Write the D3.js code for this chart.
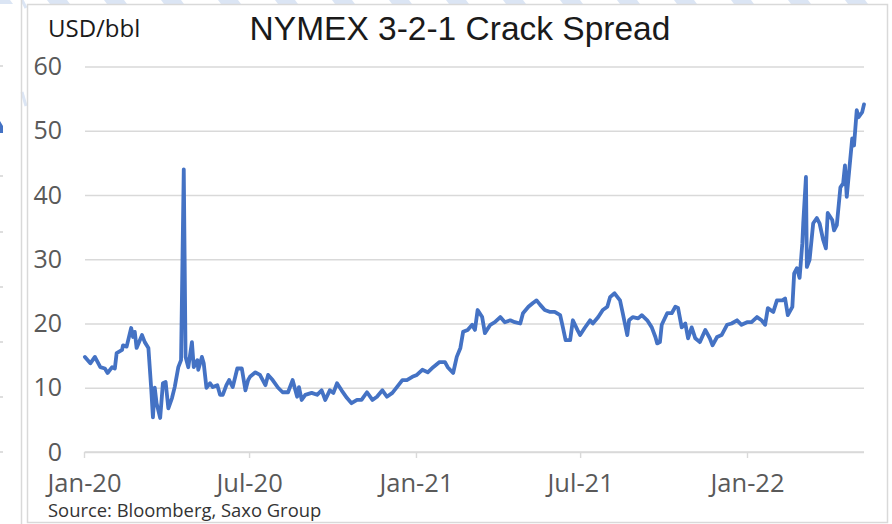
<!DOCTYPE html>
<html>
<head>
<meta charset="utf-8">
<script src="https://cdn.jsdelivr.net/npm/d3@7"></script>
<style>
  html, body { margin: 0; padding: 0; background: #ffffff; }
  svg { display: block; }
</style>
</head>
<body>
<svg id="chart" width="892" height="524"></svg>
<script>
// ---------- DATA ----------
const title = "NYMEX 3-2-1 Crack Spread";
const unitLabel = "USD/bbl";
const sourceText = "Source: Bloomberg, Saxo Group";

const yTicks = [0, 10, 20, 30, 40, 50, 60];
const xTickDates = ["2020-01-01", "2020-07-01", "2021-01-01", "2021-07-01", "2022-01-01"];
const xDomain = ["2020-01-01", "2022-05-10"];

const dates = [
  "2020-01-02","2020-01-08","2020-01-13","2020-01-19","2020-01-24","2020-01-27","2020-02-01","2020-02-04",
  "2020-02-06","2020-02-12","2020-02-13","2020-02-17","2020-02-22","2020-02-24","2020-02-26","2020-02-28",
  "2020-03-05","2020-03-08","2020-03-12","2020-03-15","2020-03-17","2020-03-19","2020-03-21","2020-03-25",
  "2020-03-28","2020-03-31","2020-04-03","2020-04-07","2020-04-10","2020-04-14","2020-04-17","2020-04-20",
  "2020-04-22","2020-04-25","2020-04-29","2020-05-01","2020-05-05","2020-05-06","2020-05-10","2020-05-12",
  "2020-05-15","2020-05-19","2020-05-22","2020-05-27","2020-05-30","2020-06-02","2020-06-06","2020-06-09",
  "2020-06-13","2020-06-18","2020-06-23","2020-06-27","2020-06-30","2020-07-02","2020-07-08","2020-07-13",
  "2020-07-19","2020-07-22","2020-07-27","2020-08-02","2020-08-07","2020-08-13","2020-08-18","2020-08-23",
  "2020-08-25","2020-08-28","2020-09-01","2020-09-08","2020-09-14","2020-09-19","2020-09-23","2020-09-28",
  "2020-10-02","2020-10-06","2020-10-11","2020-10-17","2020-10-22","2020-10-28","2020-11-02","2020-11-08",
  "2020-11-14","2020-11-19","2020-11-25","2020-11-30","2020-12-06","2020-12-11","2020-12-17","2020-12-22",
  "2020-12-28","2021-01-02","2021-01-08","2021-01-14","2021-01-20","2021-01-27","2021-02-02","2021-02-05",
  "2021-02-11","2021-02-15","2021-02-19","2021-02-22","2021-02-27","2021-03-04","2021-03-07","2021-03-10",
  "2021-03-15","2021-03-18","2021-03-24","2021-03-29","2021-04-04","2021-04-09","2021-04-15","2021-04-20",
  "2021-04-26","2021-04-29","2021-05-05","2021-05-10","2021-05-14","2021-05-18","2021-05-23","2021-05-29",
  "2021-06-03","2021-06-09","2021-06-12","2021-06-15","2021-06-20","2021-06-23","2021-06-28","2021-07-01",
  "2021-07-06","2021-07-12","2021-07-15","2021-07-21","2021-07-26","2021-07-31","2021-08-03","2021-08-08",
  "2021-08-14","2021-08-17","2021-08-22","2021-08-24","2021-08-28","2021-09-03","2021-09-07","2021-09-13",
  "2021-09-18","2021-09-22","2021-09-24","2021-09-27","2021-09-29","2021-10-05","2021-10-10","2021-10-14",
  "2021-10-17","2021-10-21","2021-10-25","2021-10-28","2021-11-01","2021-11-05","2021-11-10","2021-11-16",
  "2021-11-21","2021-11-24","2021-11-29","2021-12-04","2021-12-10","2021-12-15","2021-12-21","2021-12-26",
  "2022-01-01","2022-01-06","2022-01-12","2022-01-17","2022-01-21","2022-01-24","2022-01-30","2022-02-03",
  "2022-02-09","2022-02-12","2022-02-15","2022-02-20","2022-02-22","2022-02-25","2022-02-28","2022-03-03",
  "2022-03-04","2022-03-07","2022-03-08","2022-03-11","2022-03-15","2022-03-19","2022-03-22","2022-03-26",
  "2022-03-29","2022-03-31","2022-04-05","2022-04-07","2022-04-10","2022-04-14","2022-04-17","2022-04-19",
  "2022-04-21","2022-04-23","2022-04-27","2022-04-29","2022-05-02","2022-05-04","2022-05-08","2022-05-10"
];

const values = [
  14.8,13.8,14.8,13.2,13.0,12.3,13.2,13.0,
  15.4,15.9,16.6,16.4,19.3,17.9,18.7,16.2,
  18.2,17.1,16.2,10.1,5.4,10.0,7.6,5.3,
  10.7,10.9,6.8,8.4,10.1,13.2,14.3,44.0,
  14.8,13.2,17.1,13.2,14.3,12.8,14.8,13.8,
  10.0,10.7,10.1,10.4,8.9,8.9,10.4,11.2,
  10.1,13.0,13.0,9.6,11.2,11.7,12.4,12.0,
  10.4,12.0,11.2,10.0,9.3,9.3,11.2,8.6,
  10.1,8.1,8.9,9.2,8.9,9.6,8.1,9.6,
  9.2,10.7,9.6,8.4,7.6,8.1,8.1,9.3,
  8.1,8.6,9.6,8.6,9.2,10.1,11.2,11.2,
  11.7,12.0,12.8,12.4,13.2,14.0,14.0,13.2,
  12.3,14.8,16.2,18.7,19.0,19.8,19.0,22.1,
  21.0,18.5,19.8,20.2,21.0,20.2,20.5,20.2,
  20.0,21.6,22.6,23.2,23.6,22.9,22.1,21.8,
  21.8,21.3,19.4,17.4,17.4,20.5,19.0,18.2,
  19.3,20.5,20.0,21.0,22.1,22.6,24.1,24.7,
  23.6,21.6,18.2,20.5,21.0,20.8,21.3,20.5,
  19.4,17.9,16.9,17.1,19.8,21.6,21.6,22.6,
  22.4,19.4,20.0,17.7,19.4,17.7,17.1,19.0,
  17.7,16.6,17.9,18.2,19.8,20.0,20.5,19.8,
  20.2,20.2,21.0,20.5,19.8,22.4,21.8,23.6,
  23.6,23.9,21.3,22.6,27.8,28.6,27.1,32.5,
  35.6,42.8,28.8,29.9,35.6,36.4,35.6,33.0,
  31.7,37.2,36.1,34.5,35.3,41.2,41.8,44.6,
  39.7,42.8,48.8,47.7,53.2,52.1,52.9,54.1
];

// ---------- DRAW ----------
const parse = d3.timeParse("%Y-%m-%d");
const data = dates.map((d, i) => ({ date: parse(d), value: values[i] }));

const svg = d3.select("#chart");

// background hatch strip at top and gap (decorative)
const deco = svg.append("g");
for (let x0 = -10; x0 < 900; x0 += 57) {
  deco.append("path")
    .attr("d", `M${x0},0 L${x0 + 20},0 L${x0 + 23},4 L${x0 + 3},4 Z`)
    .attr("fill", "#dbe5f4");
}
deco.append("line").attr("x1", 22).attr("y1", 0).attr("x2", 26).attr("y2", 8)
  .attr("stroke", "#dbe5f4").attr("stroke-width", 3);
deco.append("line").attr("x1", 22).attr("y1", 92).attr("x2", 26).attr("y2", 106)
  .attr("stroke", "#dbe5f4").attr("stroke-width", 3);

// left neighbouring chart remnant
deco.append("line").attr("x1", 21.5).attr("y1", 0).attr("x2", 21.5).attr("y2", 524)
  .attr("stroke", "#d9d9d9").attr("stroke-width", 1.5);
[66, 176, 232, 287, 342, 397, 452].forEach(y => {
  deco.append("line").attr("x1", 0).attr("x2", 3).attr("y1", y).attr("y2", y)
    .attr("stroke", "#c8c8c8").attr("stroke-width", 1.2);
});
deco.append("path").attr("d", "M0,121 L3,126 L3,133 L0,133 Z").attr("fill", "#4472c4");

// frame
svg.append("rect")
  .attr("x", 27.5).attr("y", 4.5).attr("width", 860).attr("height", 518)
  .attr("fill", "#ffffff").attr("stroke", "#d9d9d9").attr("stroke-width", 1.5);

const x = d3.scaleTime().domain(xDomain.map(parse)).range([84, 864]);
const y = d3.scaleLinear().domain([0, 60]).range([452, 66.5]);

// y axis with gridlines
const yAxis = svg.append("g")
  .attr("transform", "translate(85,0)")
  .call(d3.axisLeft(y).tickValues(yTicks).tickSize(-779).tickPadding(23).tickFormat(d3.format("d")));
yAxis.select(".domain").remove();
yAxis.selectAll(".tick line").attr("stroke", "#d9d9d9").attr("stroke-width", 1.4);
yAxis.selectAll(".tick text")
  .attr("fill", "#595959")
  .style("font-family", "'Open Sans', 'Noto Sans', sans-serif")
  .style("font-size", "25px");

// x axis
const xAxis = svg.append("g")
  .attr("transform", "translate(0,452)")
  .call(d3.axisBottom(x)
    .tickValues(xTickDates.map(parse))
    .tickSize(6).tickPadding(16)
    .tickFormat(d3.timeFormat("%b-%y")));
xAxis.select(".domain").attr("stroke", "#d9d9d9").attr("stroke-width", 1.4)
  .attr("d", "M84.5,0H864");
xAxis.selectAll(".tick line").attr("stroke", "#d9d9d9").attr("stroke-width", 1.4);
xAxis.selectAll(".tick text")
  .attr("fill", "#595959")
  .style("font-family", "'Open Sans', 'Noto Sans', sans-serif")
  .style("font-size", "25.5px");

// line
const line = d3.line().x(d => x(d.date)).y(d => y(d.value));
svg.append("path")
  .datum(data)
  .attr("d", line)
  .attr("fill", "none")
  .attr("stroke", "#4472c4")
  .attr("stroke-width", 3.8)
  .attr("stroke-linejoin", "round")
  .attr("stroke-linecap", "round");

// texts
svg.append("text")
  .attr("x", 460).attr("y", 40)
  .attr("text-anchor", "middle")
  .attr("fill", "#1a1a1a")
  .style("font-family", "'Liberation Sans', Arial, sans-serif")
  .style("font-size", "33.5px")
  .text(title);

svg.append("text")
  .attr("x", 48).attr("y", 37)
  .attr("fill", "#1a1a1a")
  .style("font-family", "'Open Sans', 'Noto Sans', sans-serif")
  .style("font-size", "24px")
  .text(unitLabel);

svg.append("text")
  .attr("x", 48).attr("y", 517)
  .attr("fill", "#333333")
  .style("font-family", "'Open Sans', 'Noto Sans', sans-serif")
  .style("font-size", "18.4px")
  .text(sourceText);
</script>
</body>
</html>
